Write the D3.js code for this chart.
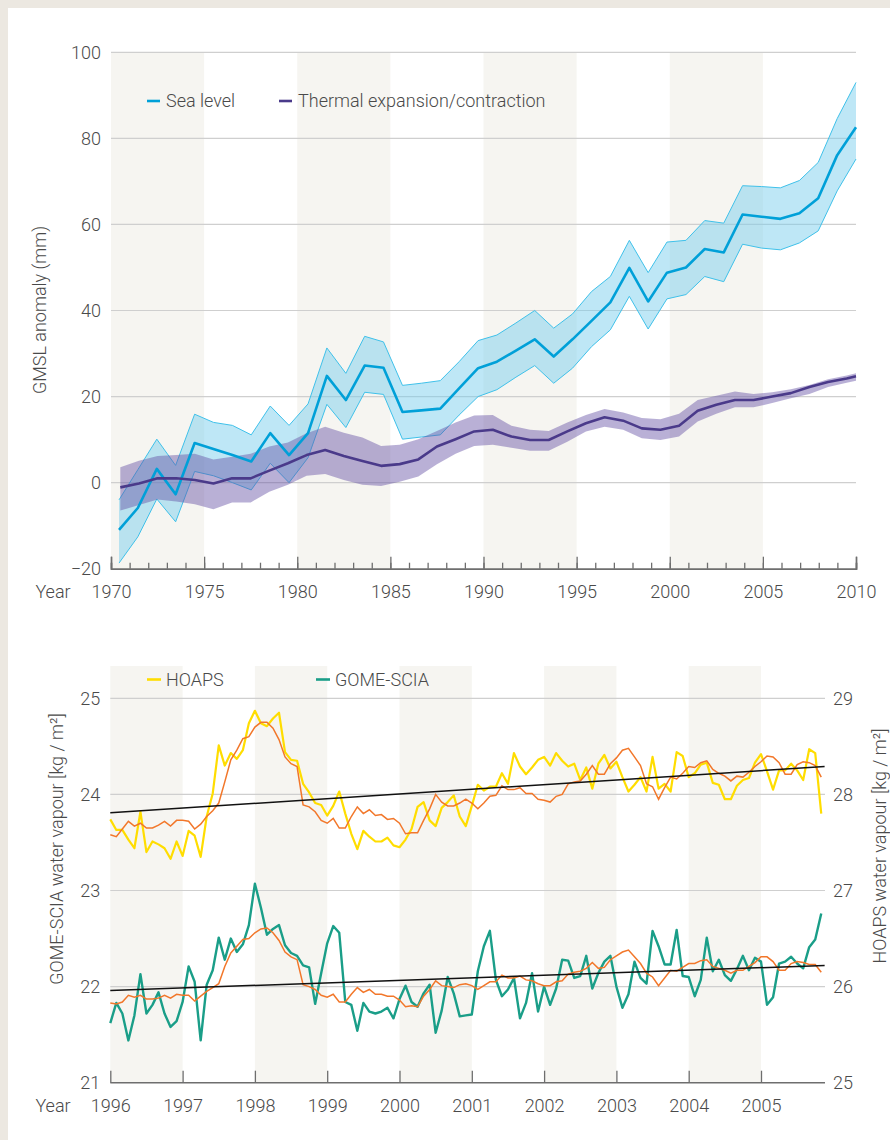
<!DOCTYPE html>
<html>
<head>
<meta charset="utf-8">
<script src="https://cdn.jsdelivr.net/npm/d3@7"></script>
<style>
  body { margin: 0; background: #ece8e1; }
  svg { display: block; }
  text { font-family: 'Roboto', sans-serif; font-weight: 300; fill: #4a4a4a; }
</style>
</head>
<body>
<svg id="chart" width="890" height="1140"></svg>
<script>
// ---------------- DATA: top panel (GMSL) ----------------
const seaYears = [1970.43,1971.44,1972.46,1973.47,1974.49,1975.50,1976.52,1977.53,1978.55,1979.56,
  1980.58,1981.59,1982.61,1983.62,1984.63,1985.65,1986.66,1987.68,1988.69,1989.71,
  1990.72,1991.74,1992.75,1993.77,1994.78,1995.80,1996.81,1997.83,1998.84,1999.85,
  2000.87,2001.88,2002.90,2003.91,2004.93,2005.94,2006.96,2007.97,2008.99,2010.00];
const seaLevel = [-11.0,-5.9,3.2,-2.7,9.2,7.8,6.4,4.9,11.5,6.4,
  11.5,24.8,19.2,27.2,26.7,16.4,16.8,17.2,21.9,26.6,
  28.1,30.7,33.3,29.3,33.3,37.6,41.9,49.9,42.1,48.8,
  50.0,54.3,53.5,62.3,61.8,61.3,62.6,66.1,76.1,82.6];
const seaUpper = [-4.0,3.0,10.1,4.0,15.9,14.0,13.3,11.1,17.8,13.3,
  18.3,31.3,25.4,34.0,32.7,22.6,23.1,23.7,28.1,33.0,
  34.3,37.1,40.0,35.9,39.2,44.4,47.9,56.3,48.8,55.9,
  56.3,60.9,60.3,69.0,68.8,68.5,70.2,74.4,84.6,93.0];
const seaLower = [-18.7,-12.6,-3.8,-9.1,2.6,1.6,0.0,-1.7,4.5,0.0,
  5.8,18.2,12.8,21.0,20.5,10.1,10.6,11.1,15.7,20.0,
  21.6,24.5,27.2,23.1,26.6,31.6,35.5,43.3,35.7,42.7,
  43.7,47.9,46.7,55.4,54.5,54.1,55.7,58.5,67.8,75.2];

const thermYears = [1970.5,1971.5,1972.5,1973.5,1974.5,1975.5,1976.5,1977.5,1978.5,1979.5,
  1980.5,1981.5,1982.5,1983.5,1984.5,1985.5,1986.5,1987.5,1988.5,1989.5,
  1990.5,1991.5,1992.5,1993.5,1994.5,1995.5,1996.5,1997.5,1998.5,1999.5,
  2000.5,2001.5,2002.5,2003.5,2004.5,2005.5,2006.5,2007.5,2008.5,2009.5,2010.0];
const thermal = [-1.1,-0.2,1.0,1.0,0.6,-0.2,1.0,1.0,2.8,4.5,
  6.4,7.6,6.2,5.0,3.9,4.3,5.4,8.4,10.1,11.9,
  12.3,10.7,9.9,9.9,11.9,13.8,15.2,14.4,12.6,12.3,
  13.2,16.7,18.1,19.2,19.2,20.0,20.8,22.2,23.4,24.2,24.7];
const thermUpper = [3.6,5.1,6.2,6.4,6.7,5.4,6.0,6.7,8.4,9.3,
  11.5,13.0,11.6,10.5,8.5,8.8,10.1,12.0,14.0,15.6,
  15.7,13.2,12.3,12.0,14.0,15.7,17.1,16.3,15.0,14.7,
  16.0,19.2,20.2,21.2,20.6,21.0,21.7,22.7,24.0,24.9,25.4];
const thermLower = [-6.5,-5.2,-3.9,-4.4,-5.0,-6.2,-4.6,-4.6,-2.1,-0.5,
  1.6,2.0,0.6,-0.5,-0.8,0.2,1.4,4.3,6.7,8.5,
  8.8,8.1,7.4,7.4,9.5,11.9,13.0,12.3,10.3,9.9,
  10.7,14.2,16.0,17.5,17.5,18.5,19.6,20.6,22.2,23.2,23.7];

const topShadedPeriods = [[1970,1975],[1980,1985],[1990,1995],[2000,2005]];
const topYTicks = [-20,0,20,40,60,80,100];
const topXMajor = [1970,1975,1980,1985,1990,1995,2000,2005,2010];
const topLegend = ["Sea level","Thermal expansion/contraction"];
const topYTitle = "GMSL anomaly (mm)";

// ---------------- DATA: bottom panel (water vapour), monthly from Jan 1996 ----------------
const hoaps = [27.74,27.63,27.63,27.53,27.44,27.82,27.40,27.51,27.48,27.44,27.33,27.51,
  27.36,27.62,27.57,27.35,27.77,28.01,28.51,28.30,28.43,28.37,28.46,28.74,
  28.87,28.74,28.71,28.79,28.85,28.44,28.36,28.35,28.11,28.02,27.91,27.89,
  27.78,27.88,28.03,27.80,27.59,27.43,27.62,27.56,27.51,27.51,27.55,27.47,
  27.45,27.53,27.64,27.87,27.92,27.73,27.67,27.86,27.92,27.99,27.77,27.67,
  27.88,28.10,28.04,28.08,28.08,28.22,28.11,28.43,28.29,28.21,28.28,28.36,
  28.39,28.30,28.43,28.35,28.29,28.32,28.15,28.28,28.06,28.32,28.41,28.27,
  28.34,28.18,28.03,28.10,28.18,28.03,28.39,28.06,28.11,28.03,28.44,28.40,
  28.18,28.22,28.31,28.33,28.12,28.10,27.95,27.95,28.09,28.15,28.17,28.33,
  28.42,28.24,28.05,28.25,28.25,28.32,28.25,28.15,28.47,28.43,27.80];
const hoapsSmooth = [27.58,27.56,27.64,27.72,27.67,27.70,27.65,27.65,27.68,27.72,27.67,27.73,
  27.73,27.72,27.64,27.69,27.77,27.83,27.91,28.13,28.36,28.46,28.58,28.60,
  28.70,28.75,28.75,28.69,28.57,28.39,28.32,28.29,27.89,27.87,27.82,27.73,
  27.70,27.75,27.65,27.65,27.77,27.87,27.80,27.84,27.78,27.79,27.74,27.75,
  27.70,27.59,27.60,27.60,27.73,27.85,28.00,27.92,27.88,27.88,27.91,27.95,
  27.91,27.85,27.91,27.98,27.99,28.09,28.05,28.05,28.07,28.01,28.01,27.95,
  27.94,27.92,27.98,28.00,28.11,28.13,28.14,28.21,28.30,28.21,28.21,28.32,
  28.38,28.46,28.48,28.39,28.30,28.11,28.08,27.95,28.07,28.18,28.16,28.22,
  28.29,28.28,28.33,28.35,28.26,28.22,28.19,28.14,28.19,28.18,28.23,28.29,
  28.34,28.40,28.39,28.33,28.21,28.21,28.31,28.34,28.33,28.30,28.18];
const gome = [21.62,21.83,21.72,21.44,21.70,22.13,21.72,21.81,21.94,21.72,21.58,21.64,
  21.84,22.21,22.05,21.44,22.02,22.17,22.51,22.28,22.50,22.36,22.44,22.64,
  23.07,22.82,22.54,22.60,22.64,22.43,22.35,22.32,22.22,22.20,21.82,22.14,
  22.45,22.63,22.56,21.84,21.81,21.54,21.83,21.74,21.72,21.74,21.78,21.67,
  21.87,22.01,21.84,21.79,21.93,22.02,21.52,21.75,22.10,21.93,21.69,21.70,
  21.71,22.16,22.42,22.58,22.07,21.90,21.97,22.09,21.67,21.83,22.14,21.74,
  22.00,21.81,21.98,22.28,22.27,22.09,22.11,22.32,21.98,22.14,22.26,22.32,
  22.00,21.78,21.92,22.26,22.09,22.03,22.58,22.42,22.23,22.23,22.59,22.11,
  22.10,21.90,22.07,22.51,22.16,22.28,22.12,22.06,22.18,22.32,22.17,22.30,
  22.26,21.81,21.89,22.24,22.26,22.31,22.24,22.19,22.41,22.49,22.76];
const gomeSmooth = [21.83,21.82,21.84,21.91,21.89,21.91,21.87,21.87,21.88,21.91,21.88,21.92,
  21.91,21.91,21.85,21.90,21.95,21.99,22.03,22.21,22.35,22.42,22.49,22.50,
  22.56,22.60,22.61,22.56,22.48,22.36,22.31,22.28,22.02,22.00,21.97,21.91,
  21.89,21.92,21.84,21.84,21.92,21.99,21.94,21.97,21.92,21.92,21.90,21.90,
  21.86,21.79,21.80,21.79,21.90,21.97,22.06,22.01,22.00,21.99,22.02,22.03,
  22.01,21.97,22.01,22.05,22.05,22.12,22.09,22.09,22.11,22.07,22.06,22.03,
  22.01,22.01,22.05,22.06,22.13,22.15,22.16,22.19,22.25,22.19,22.20,22.28,
  22.32,22.36,22.38,22.31,22.24,22.14,22.10,22.01,22.09,22.17,22.16,22.20,
  22.24,22.24,22.27,22.28,22.21,22.19,22.17,22.14,22.17,22.17,22.21,22.25,
  22.31,22.31,22.26,22.17,22.17,22.24,22.26,22.25,22.23,22.23,22.15];
const trendYears = [1996, 2005.88];
const hoapsTrend = [27.81, 28.29];
const gomeTrend = [21.96, 22.22];

const botShadedPeriods = [[1996,1997],[1998,1999],[2000,2001],[2002,2003],[2004,2005]];
const botYTicksLeft = [21,22,23,24,25];
const botYTicksRight = [25,26,27,28,29];
const botXTicks = [1996,1997,1998,1999,2000,2001,2002,2003,2004,2005];
const botLegend = ["HOAPS","GOME-SCIA"];
const botLeftTitle = "GOME-SCIA water vapour [kg / m²]";
const botRightTitle = "HOAPS water vapour [kg / m²]";

(function () {
// ---------------- STYLE ----------------
const C = {
  frame: "#ece8e1", shade: "#f6f5f1", grid: "#cfcfcf", axis: "#6e6e6e", text: "#4a4a4a",
  sea: "#00a0d8", seaBand: "rgba(120,205,236,0.48)", seaEdge: "#3fc1ea",
  therm: "#4a3a8a", thermBand: "rgba(100,80,165,0.45)",
  hoaps: "#ffdd00", gome: "#1a9e88", smooth: "#f2772a", trend: "#111"
};
const FS = 18;
const fmt = d3.format("d");

const svg = d3.select("#chart");
svg.append("rect").attr("width", 890).attr("height", 1140).attr("fill", C.frame);
svg.append("rect").attr("x", 8).attr("y", 8).attr("width", 882).attr("height", 1132).attr("fill", "#fff");

function styleAxisText(g) {
  g.attr("font-family", null).attr("font-size", null);
  g.selectAll("text").attr("font-size", FS).attr("fill", C.text);
}

// ================= TOP PANEL =================
const x1 = d3.scaleLinear().domain([1970, 2010]).range([111, 856]);
const y1 = d3.scaleLinear().domain([-20, 100]).range([568.7, 52.3]);
const gTop = svg.append("g");

gTop.selectAll("rect.shade").data(topShadedPeriods).join("rect")
  .attr("x", d => x1(d[0])).attr("width", d => x1(d[1]) - x1(d[0]))
  .attr("y", y1(100)).attr("height", y1(-20) - y1(100)).attr("fill", C.shade);

gTop.selectAll("line.grid").data(topYTicks.filter(v => v > -20)).join("line")
  .attr("x1", x1(1970)).attr("x2", x1(2010)).attr("y1", d => y1(d)).attr("y2", d => y1(d))
  .attr("stroke", C.grid).attr("stroke-width", 1.2);

const seaRows = seaYears.map((t, i) => ({t, m: seaLevel[i], hi: seaUpper[i], lo: seaLower[i]}));
const thRows = thermYears.map((t, i) => ({t, m: thermal[i], hi: thermUpper[i], lo: thermLower[i]}));

const area1 = d3.area().x(d => x1(d.t)).y0(d => y1(d.lo)).y1(d => y1(d.hi));
const lineHi = d3.line().x(d => x1(d.t)).y(d => y1(d.hi));
const lineLo = d3.line().x(d => x1(d.t)).y(d => y1(d.lo));
const lineM = d3.line().x(d => x1(d.t)).y(d => y1(d.m));

gTop.append("path").datum(seaRows).attr("d", area1).attr("fill", C.seaBand);
gTop.append("path").datum(seaRows).attr("d", lineHi).attr("fill", "none").attr("stroke", C.seaEdge).attr("stroke-width", 1);
gTop.append("path").datum(seaRows).attr("d", lineLo).attr("fill", "none").attr("stroke", C.seaEdge).attr("stroke-width", 1);
gTop.append("path").datum(thRows).attr("d", area1).attr("fill", C.thermBand);
gTop.append("path").datum(seaRows).attr("d", lineM).attr("fill", "none").attr("stroke", C.sea).attr("stroke-width", 2.6).attr("stroke-linejoin", "round");
gTop.append("path").datum(thRows).attr("d", lineM).attr("fill", "none").attr("stroke", C.therm).attr("stroke-width", 2.6).attr("stroke-linejoin", "round");

const axMinor = d3.axisBottom(x1).tickValues(d3.range(1970, 2011)).tickSize(-6).tickFormat("");
const axMajor = d3.axisBottom(x1).tickValues(topXMajor).tickSize(-12).tickPadding(17).tickFormat(fmt);
const gx1 = gTop.append("g").attr("transform", `translate(0,${y1(-20)})`);
const gx1a = gx1.append("g").call(axMinor);
const gx1b = gx1.append("g").call(axMajor);
gx1.selectAll("path.domain").attr("stroke", C.axis).attr("stroke-width", 1.5);
gx1.selectAll(".tick line").attr("stroke", C.axis).attr("stroke-width", 1.3);
styleAxisText(gx1a); styleAxisText(gx1b);

const gy1 = gTop.append("g").attr("transform", `translate(${x1(1970)},0)`)
  .call(d3.axisLeft(y1).tickValues(topYTicks).tickSize(0).tickPadding(10).tickFormat(fmt));
gy1.select(".domain").remove();
styleAxisText(gy1);

gTop.append("text").attr("x", 53).attr("y", 598).attr("text-anchor", "middle").attr("font-size", FS).text("Year");
gTop.append("text").attr("transform", "translate(46,310) rotate(-90)").attr("text-anchor", "middle").attr("font-size", FS).text(topYTitle);

const legTop = gTop.append("g");
[[147, topLegend[0], C.sea], [279, topLegend[1], C.therm]].forEach(([lx, label, col]) => {
  legTop.append("line").attr("x1", lx).attr("x2", lx + 13).attr("y1", 101).attr("y2", 101).attr("stroke", col).attr("stroke-width", 2.6);
  legTop.append("text").attr("x", lx + 19).attr("y", 101).attr("dy", "0.35em").attr("font-size", FS).text(label);
});

// ================= BOTTOM PANEL =================
const x2 = d3.scaleLinear().domain([1996, 2006]).range([110.3, 833.3]);
const yL = d3.scaleLinear().domain([21, 25]).range([1082.7, 698.3]);
const yR = d3.scaleLinear().domain([25, 29]).range([1082.7, 698.3]);
const xEnd = x2(2005.885);
const gBot = svg.append("g");

gBot.selectAll("rect.shade").data(botShadedPeriods).join("rect")
  .attr("x", d => x2(d[0])).attr("width", d => x2(d[1]) - x2(d[0]))
  .attr("y", 666).attr("height", yL(21) - 666).attr("fill", C.shade);

gBot.selectAll("line.grid").data(botYTicksLeft.filter(v => v > 21)).join("line")
  .attr("x1", x2(1996)).attr("x2", xEnd).attr("y1", d => yL(d)).attr("y2", d => yL(d))
  .attr("stroke", C.grid).attr("stroke-width", 1.2);

const monthT = i => 1996 + i / 12;
const lineR = d3.line().x((d, i) => x2(monthT(i))).y(d => yR(d));
const lineLft = d3.line().x((d, i) => x2(monthT(i))).y(d => yL(d));

gBot.append("path").datum(hoaps).attr("d", lineR).attr("fill", "none").attr("stroke", C.hoaps).attr("stroke-width", 2.2).attr("stroke-linejoin", "round");
gBot.append("path").datum(gome).attr("d", lineLft).attr("fill", "none").attr("stroke", C.gome).attr("stroke-width", 2.4).attr("stroke-linejoin", "round");
gBot.append("path").datum(hoapsSmooth).attr("d", lineR).attr("fill", "none").attr("stroke", C.smooth).attr("stroke-width", 1.5);
gBot.append("path").datum(gomeSmooth).attr("d", lineLft).attr("fill", "none").attr("stroke", C.smooth).attr("stroke-width", 1.5);

const trendLine = (sc) => d3.line().x((d, i) => x2(trendYears[i])).y(d => sc(d));
gBot.append("path").datum(hoapsTrend).attr("d", trendLine(yR)).attr("stroke", C.trend).attr("stroke-width", 1.5).attr("fill", "none");
gBot.append("path").datum(gomeTrend).attr("d", trendLine(yL)).attr("stroke", C.trend).attr("stroke-width", 1.5).attr("fill", "none");

const gx2 = gBot.append("g").attr("transform", `translate(0,${yL(21)})`)
  .call(d3.axisBottom(x2).tickValues(botXTicks).tickSize(-12).tickPadding(17).tickFormat(fmt));
gx2.select(".domain").attr("d", `M${x2(1996)},0H${xEnd}`).attr("stroke", C.axis).attr("stroke-width", 1.5);
gx2.selectAll(".tick line").attr("stroke", C.axis).attr("stroke-width", 1.3);
styleAxisText(gx2);

const gyL = gBot.append("g").attr("transform", `translate(${x2(1996)},0)`)
  .call(d3.axisLeft(yL).tickValues(botYTicksLeft).tickSize(0).tickPadding(10).tickFormat(fmt));
gyL.select(".domain").remove();
styleAxisText(gyL);

const gyR = gBot.append("g").attr("transform", `translate(${xEnd},0)`)
  .call(d3.axisRight(yR).tickValues(botYTicksRight).tickSize(0).tickPadding(8).tickFormat(fmt));
gyR.select(".domain").remove();
styleAxisText(gyR);

gBot.append("text").attr("x", 53).attr("y", 1112).attr("text-anchor", "middle").attr("font-size", FS).text("Year");
gBot.append("text").attr("transform", "translate(63,849) rotate(-90)").attr("text-anchor", "middle").attr("font-size", FS).text(botLeftTitle);
gBot.append("text").attr("transform", "translate(886,846) rotate(-90)").attr("text-anchor", "middle").attr("font-size", FS).text(botRightTitle);

const legBot = gBot.append("g");
[[147, botLegend[0], C.hoaps], [316, botLegend[1], C.gome]].forEach(([lx, label, col]) => {
  legBot.append("line").attr("x1", lx).attr("x2", lx + 14).attr("y1", 679.5).attr("y2", 679.5).attr("stroke", col).attr("stroke-width", 2.6);
  legBot.append("text").attr("x", lx + 19).attr("y", 679.5).attr("dy", "0.35em").attr("font-size", FS).text(label);
});
})();
</script>
</body>
</html>
